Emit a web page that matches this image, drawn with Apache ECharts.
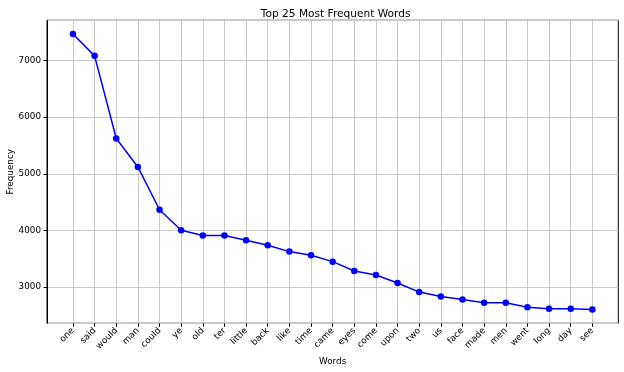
<!DOCTYPE html>
<html>
<head>
<meta charset="utf-8">
<script src="https://cdn.jsdelivr.net/npm/echarts@6/dist/echarts.min.js"></script>
<style>html,body{margin:0;padding:0;background:#fff}#c{width:624px;height:372px}</style>
</head>
<body>
<div id="c"></div>
<script>
const words = ['one','said','would','man','could','ye','old','ter','little','back','like','time','came','eyes','come','upon','two','us','face','made','men','went','long','day','see'];
const frequencies = [7468,7083,5624,5121,4365,4004,3910,3910,3826,3738,3626,3560,3449,3284,3213,3071,2911,2833,2780,2722,2722,2645,2615,2615,2603];

const dMax = Math.max(...frequencies), dMin = Math.min(...frequencies);
const pad = (dMax - dMin) * 0.05;
const yMin = dMin - pad, yMax = dMax + pad;

const FONT = 'DejaVu Sans';
const FS = 8.8;
const chart = echarts.init(document.getElementById('c'), null, {renderer: 'canvas'});
const plotL = 47, plotT = 20.3, plotW = 571.3, plotH = 303;
const xStep = plotW / (words.length - 1 + 2.4);
chart.setOption({
  animation: false,
  textStyle: {fontFamily: FONT},
  title: {
    text: 'Top 25 Most Frequent Words',
    left: plotL + plotW / 2 - 2, top: 4, textAlign: 'center',
    textStyle: {fontFamily: FONT, fontSize: 10.6, fontWeight: 'normal', color: '#000'}
  },
  grid: [
    {left: plotL, top: plotT, width: plotW, height: plotH, show: true, borderColor: '#000', borderWidth: 1, backgroundColor: 'transparent', containLabel: false, outerBoundsMode: 'none'},
    {left: plotL + 1.2 * xStep, top: plotT, width: xStep * (words.length - 1), height: plotH, containLabel: false, outerBoundsMode: 'none'}
  ],
  xAxis: [
    {gridIndex: 0, type: 'value', min: 0, max: 1, show: false},
    {gridIndex: 1, type: 'category', data: words, boundaryGap: false,
     axisLine: {show: false},
     axisTick: {show: true, length: 3.5, lineStyle: {color: '#000'}, alignWithLabel: true},
     splitLine: {show: true, lineStyle: {color: '#c8c8c8', width: 1}},
     axisLabel: {rotate: 45, fontSize: FS, color: '#000', margin: 6, interval: 0, fontFamily: FONT},
     name: 'Words', nameLocation: 'middle', nameGap: 34, nameMoveOverlap: false,
     nameTextStyle: {fontSize: FS, color: '#000', fontFamily: FONT}}
  ],
  yAxis: [
    {gridIndex: 0, type: 'value', min: yMin, max: yMax, splitNumber: 5,
     axisLine: {show: true, lineStyle: {color: '#000'}},
     axisTick: {show: true, length: 3.5, lineStyle: {color: '#000'}},
     splitLine: {show: true, lineStyle: {color: '#c8c8c8', width: 1}},
     axisLabel: {fontSize: FS, color: '#000', margin: 6, showMinLabel: false, showMaxLabel: false, fontFamily: FONT,
                 formatter: v => String(Math.round(v))},
     name: 'Frequency', nameLocation: 'middle', nameGap: 32, nameRotate: 90, nameMoveOverlap: false,
     nameTextStyle: {fontSize: FS, color: '#000', fontFamily: FONT}},
    {gridIndex: 1, type: 'value', min: yMin, max: yMax, show: false}
  ],
  series: [{
    type: 'line', xAxisIndex: 1, yAxisIndex: 1,
    data: frequencies,
    symbol: 'circle', symbolSize: 6.5, showAllSymbol: true,
    lineStyle: {color: '#0000ff', width: 1.5},
    itemStyle: {color: '#0000ff'}
  }]
});
</script>
</body>
</html>
